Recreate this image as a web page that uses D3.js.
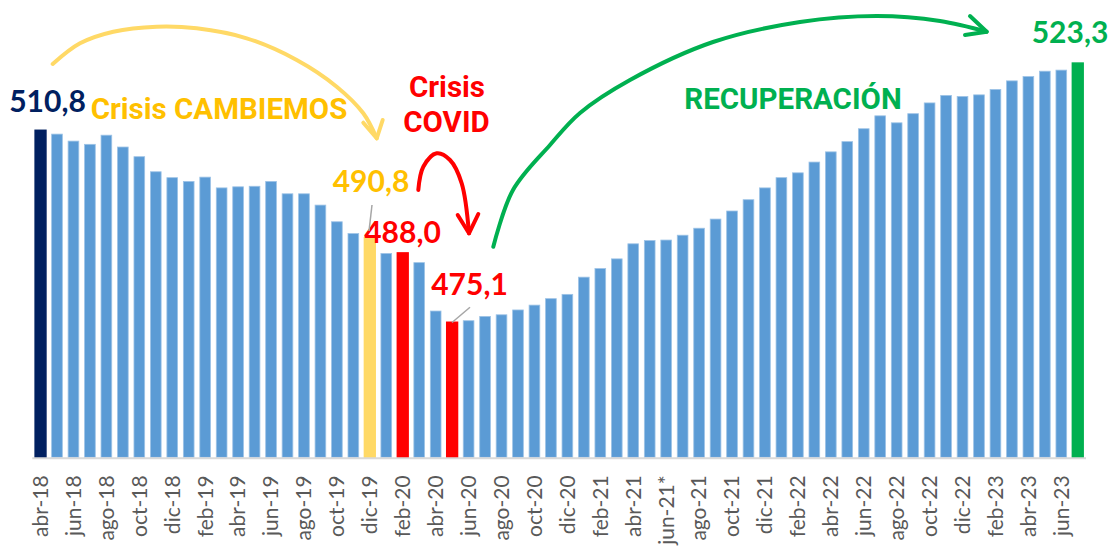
<!DOCTYPE html>
<html>
<head>
<meta charset="utf-8">
<script src="https://cdn.jsdelivr.net/npm/d3@7"></script>
<style>
  body { margin: 0; background: #fff; }
  svg { display: block; }
  .tick-label { font-family: Lato, "Open Sans", sans-serif; font-size: 21px; fill: #595959; }
  .num { font-family: Lato, sans-serif; font-weight: bold; font-size: 30px; }
  .note { font-family: Roboto, sans-serif; font-weight: bold; font-size: 29.5px; }
</style>
</head>
<body>
<div id="chart"></div>
<script>
// monthly series, abr-18 .. jul-23
var months = ["abr-18","may-18","jun-18","jul-18","ago-18","sep-18","oct-18","nov-18","dic-18",
  "ene-19","feb-19","mar-19","abr-19","may-19","jun-19","jul-19","ago-19","sep-19","oct-19","nov-19","dic-19",
  "ene-20","feb-20","mar-20","abr-20","may-20","jun-20","jul-20","ago-20","sep-20","oct-20","nov-20","dic-20",
  "ene-21","feb-21","mar-21","abr-21","may-21","jun-21*","jul-21","ago-21","sep-21","oct-21","nov-21","dic-21",
  "ene-22","feb-22","mar-22","abr-22","may-22","jun-22","jul-22","ago-22","sep-22","oct-22","nov-22","dic-22",
  "ene-23","feb-23","mar-23","abr-23","may-23","jun-23","jul-23"];

var values = [510.8, 510.1, 508.8, 508.2, 509.9, 507.7, 505.9, 503.1, 502.0, 501.3,
  502.1, 500.1, 500.3, 500.4, 501.3, 499.0, 499.0, 496.9, 493.8, 491.6,
  490.8, 487.9, 488.0, 486.2, 477.2, 475.1, 475.4, 476.2, 476.5, 477.4,
  478.3, 479.5, 480.3, 483.5, 485.1, 486.9, 489.7, 490.3, 490.4, 491.3,
  492.6, 494.3, 495.8, 497.9, 500.1, 502.0, 502.9, 504.9, 506.8, 508.7,
  511.1, 513.5, 512.2, 513.9, 515.9, 517.3, 517.1, 517.4, 518.4, 520.0,
  520.8, 521.8, 522.0, 523.3];

// months shown on the axis (every other one)
var tickMonths = months.filter(function(d, i) { return i % 2 === 0; });

// highlighted months
var markedMonths = ["abr-18", "dic-19", "feb-20", "may-20", "jul-23"];

var colors = {
  "abr-18": "#002060",
  "dic-19": "#FFD966",
  "feb-20": "#FF0000",
  "may-20": "#FF0000",
  "jul-23": "#00B050"
};

var width = 1110, height = 546;

var svg = d3.select("#chart").append("svg")
  .attr("width", width)
  .attr("height", height);

var x = d3.scaleBand()
  .domain(months)
  .range([32.3, 1086])
  .paddingInner(0.35)
  .paddingOuter(0.175);

var y = d3.scaleLinear()
  .domain([450, 530])
  .range([457.3, 27.1]);

var data = months.map(function(m, i) { return { m: m, v: values[i] }; });

// bars
svg.append("g").selectAll("rect")
  .data(data)
  .enter()
  .append("rect")
  .attr("x", function(d) { return x(d.m); })
  .attr("y", function(d) { return y(d.v); })
  .attr("width", x.bandwidth())
  .attr("height", function(d) { return y(450) - y(d.v); })
  .attr("fill", function(d) { return colors[d.m] || "#5B9BD5"; })
  .attr("stroke", function(d) { return colors[d.m] || "#9DC3E6"; })
  .attr("stroke-width", function(d) { return colors[d.m] ? 1.6 : 0.8; });

// baseline
svg.append("line")
  .attr("x1", x.range()[0]).attr("x2", x.range()[1])
  .attr("y1", y(450) + 1).attr("y2", y(450) + 1)
  .attr("stroke", "#D9D9D9")
  .attr("stroke-width", 2);

// axis labels
var xAxis = d3.axisBottom(x).tickValues(tickMonths).tickSize(0).tickPadding(0);
var gx = svg.append("g")
  .attr("transform", "translate(0," + (y(450) + 18) + ")")
  .call(xAxis);
gx.select(".domain").remove();
gx.selectAll("text")
  .attr("class", "tick-label")
  .attr("text-anchor", "end")
  .attr("transform", "rotate(-90)")
  .attr("x", 0)
  .attr("y", 0)
  .attr("dy", "0.35em");

var fmt = function(v) { return d3.format(".1f")(v).replace(".", ","); };
var val = function(m) { return values[months.indexOf(m)]; };

// value labels
var numLabels = [
  { m: "abr-18", x: 47.5, y: 111.7, c: "#002060" },
  { m: "dic-19", x: 371, y: 191.7, c: "#FFC000" },
  { m: "feb-20", x: 402.5, y: 242.7, c: "#FF0000" },
  { m: "may-20", x: 469.5, y: 295, c: "#FF0000" },
  { m: "jul-23", x: 1070, y: 43.3, c: "#00B050" }
];
svg.append("g").selectAll("text")
  .data(numLabels)
  .enter()
  .append("text")
  .attr("class", "num")
  .attr("x", function(d) { return d.x; })
  .attr("y", function(d) { return d.y; })
  .attr("text-anchor", "middle")
  .attr("fill", function(d) { return d.c; })
  .text(function(d) { return fmt(val(d.m)); });

// leader lines
svg.append("line").attr("x1", 372).attr("y1", 205).attr("x2", 369).attr("y2", 231)
  .attr("stroke", "#A6A6A6").attr("stroke-width", 1.5);
svg.append("line").attr("x1", 470).attr("y1", 307.3).attr("x2", 452).attr("y2", 322.5)
  .attr("stroke", "#A6A6A6").attr("stroke-width", 1.5);

// notes
var notes = [
  { t: "Crisis CAMBIEMOS", x: 219, y: 118.5, c: "#FFC000" },
  { t: "Crisis", x: 447, y: 96.7, c: "#FF0000" },
  { t: "COVID", x: 446.5, y: 131.7, c: "#FF0000" },
  { t: "RECUPERACIÓN", x: 793, y: 109, c: "#00B050" }
];
svg.append("g").selectAll("text")
  .data(notes)
  .enter()
  .append("text")
  .attr("class", "note")
  .attr("x", function(d) { return d.x; })
  .attr("y", function(d) { return d.y; })
  .attr("text-anchor", "middle")
  .attr("fill", function(d) { return d.c; })
  .text(function(d) { return d.t; });

// curved arrows
var curve = d3.line().curve(d3.curveCatmullRom.alpha(0.5));
var arrows = [
  { c: "#FFD966",
    pts: [[52.7,64],[80,43.3],[113.3,31.7],[156.7,26.7],[196.7,28.3],[246.7,38.3],[296.7,60],[336.7,86.7],[363.3,113.3],[376.7,138.3]],
    head: [[363.3,122.7],[376.7,138.3],[382.7,120]] },
  { c: "#FF0000",
    pts: [[418.3,190],[423.3,166.7],[436.7,153.3],[450,160],[461.7,183.3],[469,233.3]],
    head: [[457.7,215],[469,233.3],[478.3,214]] },
  { c: "#00B050",
    pts: [[493.3,246.7],[513,190],[550,145],[580,113],[630,80],[713,42],[800,22],[877,16],[940,21],[986.7,31.7]],
    head: [[970,16],[986.7,31.7],[965,35]] }
];
arrows.forEach(function(a) {
  svg.append("path")
    .attr("d", curve(a.pts))
    .attr("fill", "none")
    .attr("stroke", a.c)
    .attr("stroke-width", 4)
    .attr("stroke-linecap", "round");
  svg.append("path")
    .attr("d", d3.line()(a.head))
    .attr("fill", "none")
    .attr("stroke", a.c)
    .attr("stroke-width", 4)
    .attr("stroke-linecap", "round")
    .attr("stroke-linejoin", "round");
});
</script>
</body>
</html>
